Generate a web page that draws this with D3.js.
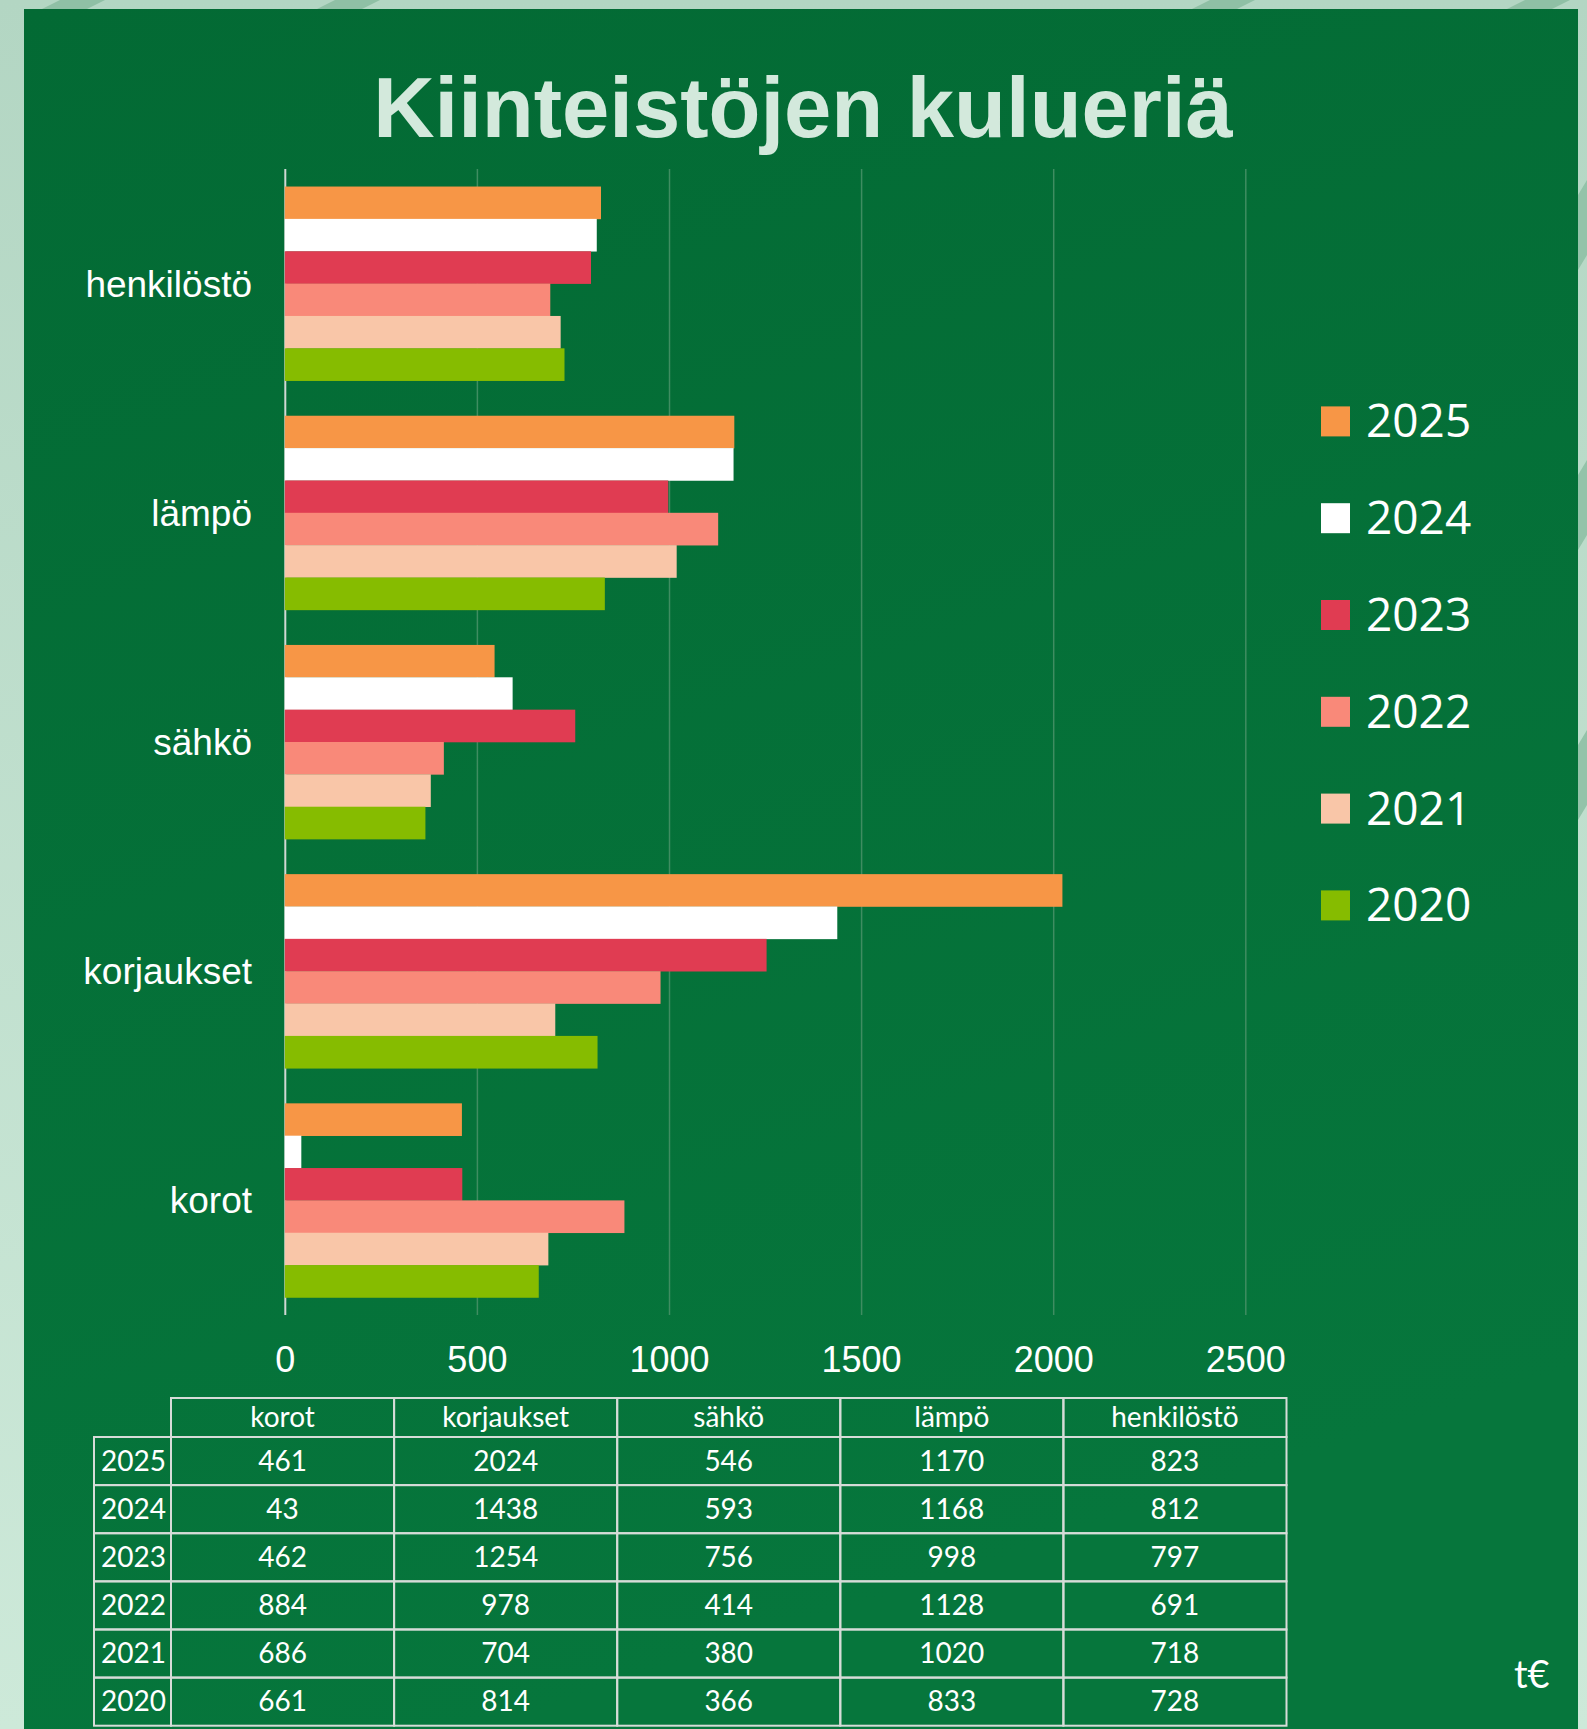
<!DOCTYPE html>
<html>
<head>
<meta charset="utf-8">
<script src="https://cdn.jsdelivr.net/npm/d3@7"></script>
<style>
  body { margin: 0; background: #b5d7c4; }
  svg { display: block; }
</style>
</head>
<body>
<div id="svg"></div>
<script>
/*
 */
var categories = ['korot', 'korjaukset', 'sähkö', 'lämpö', 'henkilöstö']
  , years = ['2025', '2024', '2023', '2022', '2021', '2020']
  , v2025 = [461, 2024, 546, 1170, 823]
  , v2024 = [43, 1438, 593, 1168, 812]
  , v2023 = [462, 1254, 756, 998, 797]
  , v2022 = [884, 978, 414, 1128, 691]
  , v2021 = [686, 704, 380, 1020, 718]
  , v2020 = [661, 814, 366, 833, 728]
  , xTicks = [0, 500, 1000, 1500, 2000, 2500]
  , colors = ['#f79646', '#ffffff', '#e03c52', '#f98979', '#f9c6a8', '#86bc00'];

var series = [v2025, v2024, v2023, v2022, v2021, v2020];

var width = 1587
  , height = 1729;

var svg = d3.select('#svg').append('svg')
  .attr('width', width)
  .attr('height', height);

/*
 * Background: pale mint frame with faint diagonal bands,
 * dark green panel on top.
 */
var defs = svg.append('defs');

var outer = defs.append('linearGradient')
  .attr('id', 'outer')
  .attr('x1', 0).attr('y1', 0).attr('x2', 0).attr('y2', 1);
outer.append('stop').attr('offset', 0).attr('stop-color', '#b3d6c3');
outer.append('stop').attr('offset', 1).attr('stop-color', '#cde9d9');

var panel = defs.append('linearGradient')
  .attr('id', 'panel')
  .attr('x1', 0).attr('y1', 0).attr('x2', 0.3).attr('y2', 1);
panel.append('stop').attr('offset', 0).attr('stop-color', '#036a34');
panel.append('stop').attr('offset', 1).attr('stop-color', '#06763c');

svg.append('rect')
  .attr('width', width)
  .attr('height', height)
  .attr('fill', 'url(#outer)');

// diagonal bands peeking out around the panel
[[60, 0], [335, 0], [1210, 0], [1525, 0]].forEach(function(p) {
  svg.append('path')
    .attr('d', 'M' + p[0] + ',' + p[1] + 'l45,0l-20,10l-45,0z')
    .attr('fill', '#8fc0a5');
});
[[1587, 180], [1587, 460], [1587, 730]].forEach(function(p) {
  svg.append('path')
    .attr('d', 'M' + p[0] + ',' + p[1] + 'l0,75l-12,20l0,-75z')
    .attr('fill', '#93c3a9');
});

svg.append('rect')
  .attr('x', 24)
  .attr('y', 9)
  .attr('width', 1554)
  .attr('height', height - 9)
  .attr('fill', 'url(#panel)');

/*
 * Title
 */
svg.append('text')
  .attr('x', 803)
  .attr('y', 137)
  .attr('text-anchor', 'middle')
  .style('font-family', '"Liberation Sans", Arial, sans-serif')
  .style('font-weight', 'bold')
  .style('font-size', '85px')
  .style('fill', '#d3e9dc')
  .text('Kiinteistöjen kulueriä');

/*
 * Scales
 */
var plotTop = 169
  , plotBottom = 1315;

var x = d3.scaleLinear()
  .domain([0, 2500])
  .range([284.8, 1245.3]);

var y = d3.scaleBand()
  .domain(categories.slice().reverse())
  .range([plotTop, plotBottom])
  .paddingInner(0.153)
  .paddingOuter(0.0765);

var yInner = d3.scaleBand()
  .domain(years)
  .range([0, y.bandwidth()]);

/*
 * Grid lines and the x axis labels.
 */
var xAxis = d3.axisBottom(x)
  .tickValues(xTicks)
  .tickSize(-(plotBottom - plotTop))
  .tickPadding(0)
  .tickFormat(d3.format('d'));

var gx = svg.append('g')
  .attr('transform', 'translate(0,' + plotBottom + ')')
  .call(xAxis);

gx.select('.domain').remove();
gx.selectAll('.tick line')
  .attr('stroke', function(d) { return d === 0 ? '#d0d8d3' : '#3f8d61'; })
  .attr('stroke-width', function(d) { return d === 0 ? 2 : 1.5; });
gx.selectAll('.tick text')
  .attr('y', 57)
  .attr('dy', 0)
  .style('font-family', '"Liberation Sans", Arial, sans-serif')
  .style('font-size', '36px')
  .style('fill', '#ffffff');

/*
 * Bars
 */
var groups = svg.selectAll('g.cat')
  .data(categories)
  .enter()
  .append('g')
  .attr('class', 'cat')
  .attr('transform', function(d) {
    return 'translate(0,' + y(d) + ')';
  });

groups.selectAll('rect')
  .data(function(d, i) {
    return years.map(function(yr, j) {
      return { year: yr, value: series[j][i], color: colors[j] };
    });
  })
  .enter()
  .append('rect')
  .attr('x', x(0))
  .attr('y', function(d) { return yInner(d.year); })
  .attr('width', function(d) { return x(d.value) - x(0); })
  .attr('height', yInner.bandwidth() + 0.3)
  .attr('fill', function(d) { return d.color; });

// category labels
svg.selectAll('text.cat')
  .data(categories)
  .enter()
  .append('text')
  .attr('class', 'cat')
  .attr('x', 252)
  .attr('y', function(d) { return y(d) + y.bandwidth() / 2; })
  .attr('dy', '0.35em')
  .attr('text-anchor', 'end')
  .style('font-family', '"Liberation Sans", Arial, sans-serif')
  .style('font-size', '37px')
  .style('fill', '#ffffff')
  .text(function(d) { return d; });

/*
 * Legend
 */
var legend = svg.selectAll('g.legend')
  .data(years)
  .enter()
  .append('g')
  .attr('class', 'legend')
  .attr('transform', function(d, i) {
    return 'translate(1321,' + (421.4 + i * 96.8) + ')';
  });

legend.append('rect')
  .attr('x', 0)
  .attr('y', -15)
  .attr('width', 29)
  .attr('height', 30)
  .attr('fill', function(d, i) { return colors[i]; });

legend.append('text')
  .attr('x', 45)
  .attr('y', 16)
  .style('font-family', '"Open Sans", sans-serif')
  .style('font-size', '46px')
  .style('fill', '#ffffff')
  .text(function(d) { return d; });

/*
 * Data table under the chart.
 */
var col = d3.scaleBand()
  .domain(categories)
  .range([171, 1286.5]);

var row = d3.scaleBand()
  .domain(years)
  .range([1437, 1725.7]);

var headTop = 1398
  , yearLeft = 94
  , lineColor = '#d6dcd8'
  , tableFont = 'Lato, "Open Sans", sans-serif';

var table = svg.append('g');

// header cells
table.selectAll('rect.head')
  .data(categories)
  .enter()
  .append('rect')
  .attr('class', 'head')
  .attr('x', function(d) { return col(d); })
  .attr('y', headTop)
  .attr('width', col.bandwidth())
  .attr('height', row.range()[0] - headTop)
  .attr('fill', 'none')
  .attr('stroke', lineColor)
  .attr('stroke-width', 2);

table.selectAll('text.head')
  .data(categories)
  .enter()
  .append('text')
  .attr('class', 'head')
  .attr('x', function(d) { return col(d) + col.bandwidth() / 2; })
  .attr('y', (headTop + row.range()[0]) / 2)
  .attr('dy', '0.35em')
  .attr('text-anchor', 'middle')
  .style('font-family', tableFont)
  .style('font-size', '28px')
  .style('fill', '#ffffff')
  .text(function(d) { return d; });

// year cells
var rows = table.selectAll('g.row')
  .data(years)
  .enter()
  .append('g')
  .attr('class', 'row')
  .attr('transform', function(d) { return 'translate(0,' + row(d) + ')'; });

rows.append('rect')
  .attr('x', yearLeft)
  .attr('y', 0)
  .attr('width', col.range()[0] - yearLeft)
  .attr('height', row.bandwidth())
  .attr('fill', 'none')
  .attr('stroke', lineColor)
  .attr('stroke-width', 2);

rows.append('text')
  .attr('x', 101)
  .attr('y', row.bandwidth() / 2)
  .attr('dy', '0.35em')
  .style('font-family', tableFont)
  .style('font-size', '28px')
  .style('fill', '#ffffff')
  .text(function(d) { return d; });

// value cells
var cells = rows.selectAll('g.cell')
  .data(function(d, j) {
    return categories.map(function(c, i) {
      return { cat: c, value: series[j][i] };
    });
  })
  .enter()
  .append('g')
  .attr('class', 'cell');

cells.append('rect')
  .attr('x', function(d) { return col(d.cat); })
  .attr('y', 0)
  .attr('width', col.bandwidth())
  .attr('height', row.bandwidth())
  .attr('fill', 'none')
  .attr('stroke', lineColor)
  .attr('stroke-width', 2);

cells.append('text')
  .attr('x', function(d) { return col(d.cat) + col.bandwidth() / 2; })
  .attr('y', row.bandwidth() / 2)
  .attr('dy', '0.35em')
  .attr('text-anchor', 'middle')
  .style('font-family', tableFont)
  .style('font-size', '28px')
  .style('fill', '#ffffff')
  .text(function(d) { return d.value; });

// unit
svg.append('text')
  .attr('x', 1514)
  .attr('y', 1688)
  .style('font-family', tableFont)
  .style('font-size', '38px')
  .style('fill', '#ffffff')
  .text('t€');
</script>
</body>
</html>
